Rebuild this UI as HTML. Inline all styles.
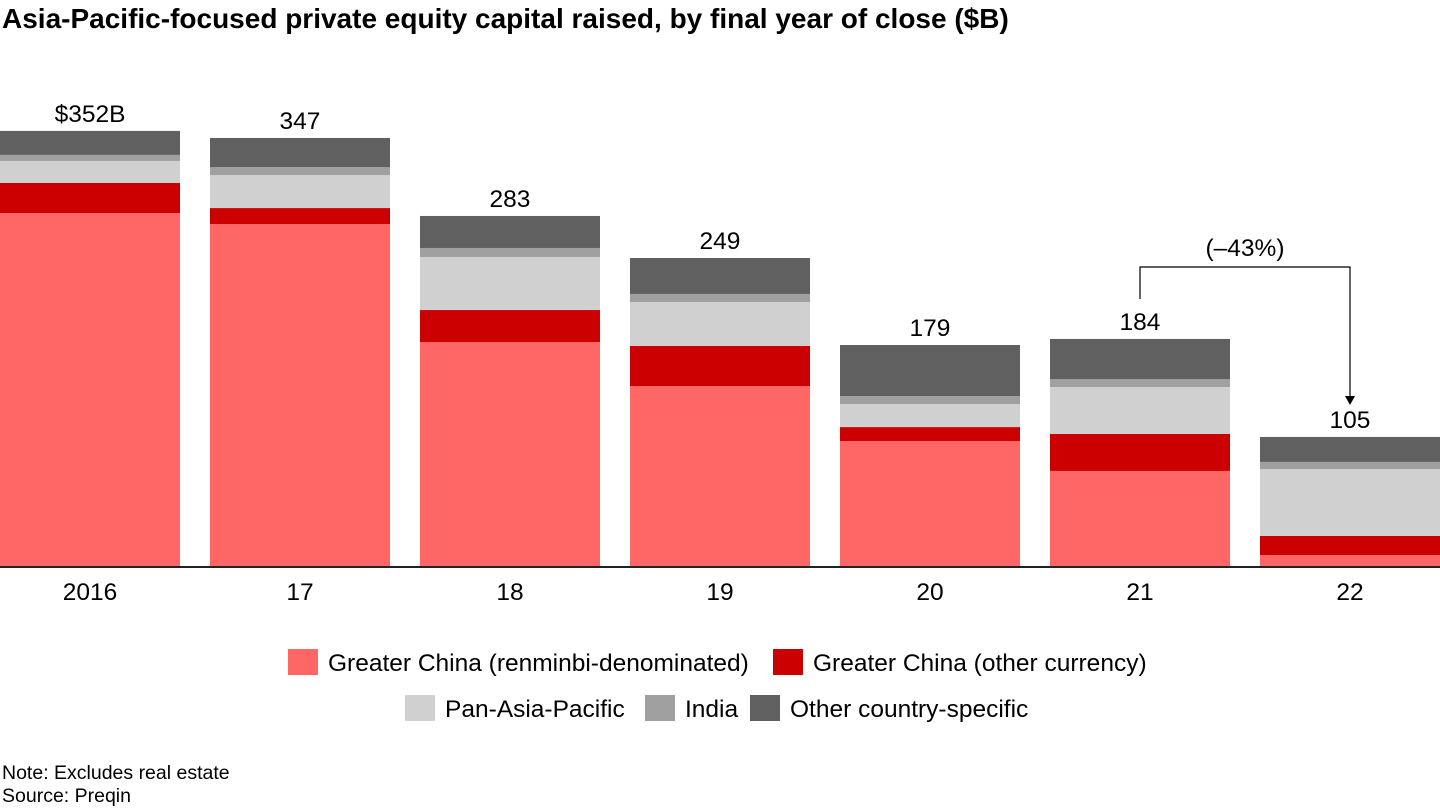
<!DOCTYPE html>
<html><head><meta charset="utf-8"><style>
body{margin:0;width:1440px;height:810px;background:#fff;font-family:"Liberation Sans",Arial,sans-serif;overflow:hidden;position:relative}
.t{position:absolute;white-space:nowrap}
</style></head><body>
<div class="t" style="left:2px;top:3px;font-size:28px;font-weight:bold;color:#000">Asia-Pacific-focused private equity capital raised, by final year of close ($B)</div>
<svg id="chart" width="1440" height="810" style="position:absolute;left:0;top:0"></svg>
<div class="t" style="left:2px;top:762px;font-size:19.5px">Note: Excludes real estate</div>
<div class="t" style="left:2px;top:785px;font-size:19.5px">Source: Preqin</div>
<script>
const categories=["2016","17","18","19","20","21","22"];
const totals=["$352B","347","283","249","179","184","105"];
const gcRmb=[285.6,276.7,181.2,145.6,101.1,76.9,8.9];
const gcOther=[24.3,12.9,25.9,32.4,11.3,29.9,15.4];
const panApac=[17.8,26.7,42.9,35.6,18.6,38.0,54.2];
const india=[4.9,6.5,7.3,6.5,6.5,6.5,5.7];
const otherCountry=[19.4,23.5,25.9,29.1,41.3,32.4,20.2];
const seriesNames=["Greater China (renminbi-denominated)","Greater China (other currency)","Pan-Asia-Pacific","India","Other country-specific"];
const colors=["#ff6666","#cc0000","#d0d0d0","#a0a0a0","#606060"];
const series=[gcRmb,gcOther,panApac,india,otherCountry];
const NS="http://www.w3.org/2000/svg";
const svg=document.getElementById('chart');
const base=566,scale=1.236;
const y=v=>base-v*scale;
const x=i=>i*210;
function mk(t,a){const e=document.createElementNS(NS,t);for(const k in a)e.setAttribute(k,a[k]);svg.appendChild(e);return e;}
const segNames=["rmb","other-currency","pan-apac","india","other-country"];
const tops=[];
categories.forEach((c,i)=>{
  let cum=0;
  series.forEach((s,j)=>{
    const r=mk('rect',{x:x(i),y:y(cum+s[i]),width:180,height:s[i]*scale,fill:colors[j]});
    
    
    cum+=s[i];
  });
  tops.push(y(cum));
  const tl=mk('text',{x:x(i)+90,y:y(cum)-9,'text-anchor':'middle','font-size':24.5,fill:'#000'});
  tl.textContent=totals[i];
  
  
  const xl=mk('text',{x:x(i)+90,y:600,'text-anchor':'middle','font-size':24.5,fill:'#000'});
  xl.textContent=c;
  
  
});
const ax=mk('line',{x1:0,x2:1440,y1:base+1,y2:base+1,stroke:'#222','stroke-width':2});


const p=mk('path',{d:`M1140 ${tops[5]-40} V267 H1350 V${tops[6]-37}`,fill:'none',stroke:'#000','stroke-width':1.2});


const ar=mk('path',{d:`M1345 ${tops[6]-41} L1355 ${tops[6]-41} L1350 ${tops[6]-32} Z`,fill:'#000'});


const ct=mk('text',{x:1245,y:256,'text-anchor':'middle','font-size':24.5});
ct.textContent="(–43%)";


const leg=[[288,649,0],[773,649,1],[405,695,2],[645,695,3],[750,695,4]];
leg.forEach(([lx,ly,j])=>{
  const r=mk('rect',{x:lx,y:ly,width:30,height:26,fill:colors[j]});
  
  
  const t=mk('text',{x:lx+40,y:ly+22,'font-size':24.5});
  t.textContent=seriesNames[j];
  
  
});
</script>
</body></html>
